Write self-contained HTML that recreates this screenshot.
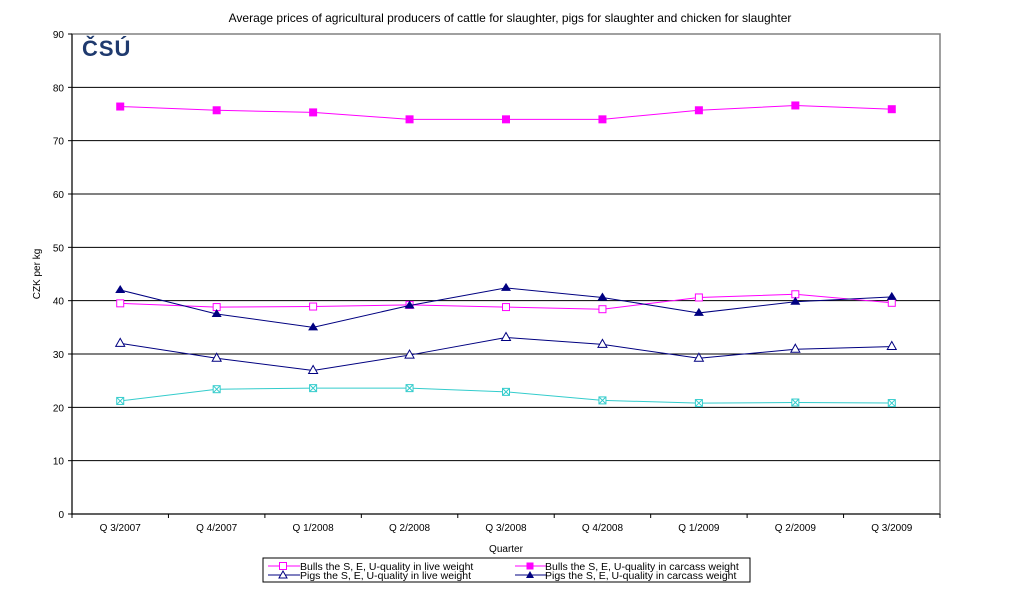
<!DOCTYPE html>
<html><head><meta charset="utf-8"><style>
body{margin:0;background:#fff;}
svg{display:block;font-family:"Liberation Sans",Arial,sans-serif;}
</style></head><body>
<svg id="c" width="1020" height="597" viewBox="0 0 1020 597" xmlns="http://www.w3.org/2000/svg">
<text x="510" y="22" font-size="12" text-anchor="middle">Average prices of agricultural producers of cattle for slaughter, pigs for slaughter and chicken for slaughter</text>
<rect x="72" y="34" width="868" height="480" fill="#fff" stroke="#808080" stroke-width="1.5"/>
<g id="grid"></g>
<text x="82" y="56" font-size="22" font-weight="bold" fill="#1f3a6e" font-family="Liberation Sans,sans-serif" letter-spacing="1">ČSÚ</text>
<text transform="translate(40,274) rotate(-90)" font-size="10" text-anchor="middle">CZK per kg</text>
<text x="506" y="552" font-size="10" text-anchor="middle">Quarter</text>
<g id="series"></g>
<rect x="263" y="558" width="487" height="24" fill="#fff" stroke="#000" stroke-width="1"/>
<g font-size="10.5">
<line x1="268" y1="566" x2="300" y2="566" stroke="#ff00ff"/><rect x="279.5" y="562.5" width="7" height="7" fill="#fff" stroke="#ff00ff"/>
<text x="300" y="570">Bulls the S, E, U-quality in live weight</text>
<line x1="515" y1="566" x2="547" y2="566" stroke="#ff00ff"/><rect x="526.5" y="562.5" width="7" height="7" fill="#ff00ff"/>
<text x="545" y="570">Bulls the S, E, U-quality in carcass weight</text>
<line x1="268" y1="575" x2="300" y2="575" stroke="#000080"/><polygon points="283,571 287,578 279,578" fill="#fff" stroke="#000080"/>
<text x="300" y="579">Pigs the S, E, U-quality in live weight</text>
<line x1="515" y1="575" x2="547" y2="575" stroke="#000080"/><polygon points="530,571 534,578 526,578" fill="#000080"/>
<text x="545" y="579">Pigs the S, E, U-quality in carcass weight</text>
</g>
</svg>
<script>
const NS="http://www.w3.org/2000/svg";
function el(t,a,p){const e=document.createElementNS(NS,t);for(const k in a)e.setAttribute(k,a[k]);if(p)p.appendChild(e);return e;}
const Y=v=>514-v*480/90, X=i=>72+868/9*(i+0.5);
const g=document.getElementById('grid');
for(let v=0;v<=90;v+=10){
 if(v>0&&v<90) el('line',{x1:72,x2:940,y1:Y(v),y2:Y(v),stroke:'#000','stroke-width':1},g);
 el('line',{x1:68,x2:72,y1:Y(v),y2:Y(v),stroke:'#000'},g);
 const t=el('text',{x:64,y:Y(v)+4,'font-size':10,'text-anchor':'end'},g);t.textContent=v;
}
el('line',{x1:72,x2:72,y1:34,y2:514,stroke:'#000'},g);
el('line',{x1:72,x2:940,y1:514,y2:514,stroke:'#000'},g);
const cats=["Q 3/2007","Q 4/2007","Q 1/2008","Q 2/2008","Q 3/2008","Q 4/2008","Q 1/2009","Q 2/2009","Q 3/2009"];
for(let i=0;i<=9;i++) el('line',{x1:72+868/9*i,x2:72+868/9*i,y1:514,y2:518,stroke:'#000'},g);
cats.forEach((c,i)=>{const t=el('text',{x:X(i),y:531,'font-size':10,'text-anchor':'middle'},g);t.textContent=c;});
const S=[
 {d:[21.2,23.4,23.6,23.6,22.9,21.3,20.8,20.9,20.8],c:'#33cccc',m:'x'},
 {d:[32,29.2,26.9,29.8,33.1,31.8,29.2,30.9,31.4],c:'#000080',m:'to'},
 {d:[39.5,38.8,38.9,39.2,38.8,38.4,40.6,41.2,39.6],c:'#ff00ff',m:'so'},
 {d:[42,37.5,35,39.1,42.4,40.6,37.7,39.8,40.7],c:'#000080',m:'tf'},
 {d:[76.4,75.7,75.3,74,74,74,75.7,76.6,75.9],c:'#ff00ff',m:'sf'}
];
const sg=document.getElementById('series');
S.forEach(s=>{
 el('polyline',{points:s.d.map((v,i)=>X(i)+','+Y(v)).join(' '),fill:'none',stroke:s.c,'stroke-width':1},sg);
 s.d.forEach((v,i)=>{const x=X(i),y=Y(v);
  if(s.m==='so') el('rect',{x:x-3.5,y:y-3.5,width:7,height:7,fill:'#fff',stroke:s.c},sg);
  if(s.m==='sf') el('rect',{x:x-4,y:y-4,width:8,height:8,fill:s.c},sg);
  if(s.m==='to') el('polygon',{points:`${x},${y-5} ${x+4.5},${y+3} ${x-4.5},${y+3}`,fill:'#fff',stroke:s.c},sg);
  if(s.m==='tf') el('polygon',{points:`${x},${y-5} ${x+5},${y+3} ${x-5},${y+3}`,fill:s.c},sg);
  if(s.m==='x'){el('rect',{x:x-3.5,y:y-3.5,width:7,height:7,fill:'#fff',stroke:s.c},sg);el('path',{d:`M${x-3} ${y-3}L${x+3} ${y+3}M${x+3} ${y-3}L${x-3} ${y+3}`,stroke:s.c},sg);}
 });
});
</script>
</body></html>
